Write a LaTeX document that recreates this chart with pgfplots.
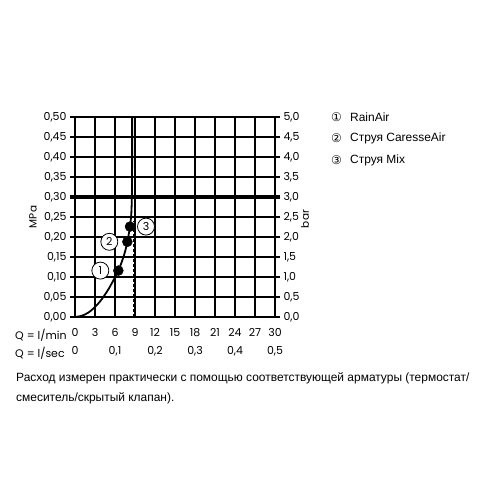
\documentclass[border=0pt]{standalone}
\usepackage{pgfplots}
\pgfplotsset{compat=1.18}
\usepackage{fontspec}
\setmainfont{Liberation Sans}
\newfontfamily\geo{Poppins}
\newfontfamily\sym{DejaVu Sans}

\begin{document}
\begin{tikzpicture}[x=1bp,y=1bp]
\path (0,0) rectangle (500,500);

% left axis: MPa, grid, curve
\begin{axis}[
    at={(75bp,183bp)}, anchor=south west,
    scale only axis, width=200bp, height=200bp,
    xmin=0, xmax=30, ymin=0, ymax=0.5,
    axis x line*=bottom, axis y line*=left,
    axis line style={line width=1.2bp},
    xtick={0,3,...,30},
    xticklabels={0,3,6,9,12,15,18,21,24,27,30},
    ytick={0,0.05,...,0.5},
    grid=major,
    grid style={black, line width=1.1bp},
    tick align=outside,
    major tick length=5bp,
    x tick style={draw=none},
    y tick style={black, line width=1.1bp},
    /pgf/number format/assume math mode=true,
    yticklabel style={/pgf/number format/.cd, use comma, fixed, fixed zerofill, precision=2},
    tick label style={font=\geo\fontsize{11}{12}\selectfont},
    xticklabel style={anchor=base, yshift=-15bp},
    extra x ticks={0,6,12,18,24,30},
    extra x tick labels={0,{0,1},{0,2},{0,3},{0,4},{0,5}},
    extra x tick style={grid=none, xticklabel style={yshift=-18bp}},
    clip=false,
]
\addplot[black, line width=3.5bp] coordinates {(-0.75,0.3) (30.75,0.3)};
\addplot[black, line width=0.8bp, dashed, dash pattern=on 3bp off 2bp] coordinates {(8.75,0) (8.75,0.24)};
\addplot[black, line width=1.8bp, smooth, tension=0.5] coordinates {
    (0,0) (1,0.003) (2,0.011) (3,0.025) (4,0.044) (5,0.069) (6,0.099)
    (6.5,0.116) (7,0.137) (7.5,0.163) (7.85,0.188) (8.25,0.226)
    (8.45,0.26) (8.53,0.30) (8.56,0.35) (8.57,0.42) (8.57,0.5)
};
\addplot[black, only marks, mark=*, mark size=5bp] coordinates {
    (6.5,0.116) (7.85,0.188) (8.25,0.226)
};
\addplot[only marks, mark=none, nodes near coords={1},
    nodes near coords style={draw=black, line width=0.8bp, circle, fill=white, minimum size=17bp, inner sep=0pt, anchor=center, xshift=-18bp, font=\geo\fontsize{11}{12}\selectfont}]
    coordinates {(6.5,0.116)};
\addplot[only marks, mark=none, nodes near coords={2},
    nodes near coords style={draw=black, line width=0.8bp, circle, fill=white, minimum size=17bp, inner sep=0pt, anchor=center, xshift=-18bp, font=\geo\fontsize{11}{12}\selectfont}]
    coordinates {(7.85,0.188)};
\addplot[only marks, mark=none, nodes near coords={3},
    nodes near coords style={draw=black, line width=0.8bp, circle, fill=white, minimum size=17bp, inner sep=0pt, anchor=center, xshift=16bp, font=\geo\fontsize{11}{12}\selectfont}]
    coordinates {(8.25,0.226)};
\end{axis}

% right axis: bar
\begin{axis}[
    at={(75bp,183bp)}, anchor=south west,
    scale only axis, width=200bp, height=200bp,
    xmin=0, xmax=30, ymin=0, ymax=5,
    axis x line=none, axis y line*=right,
    axis line style={line width=1.2bp},
    ytick={0,0.5,...,5},
    tick align=outside,
    major tick length=5bp,
    y tick style={black, line width=1.1bp},
    /pgf/number format/assume math mode=true,
    yticklabel style={/pgf/number format/.cd, use comma, fixed, fixed zerofill, precision=1},
    tick label style={font=\geo\fontsize{11}{12}\selectfont},
]
\end{axis}

\node[rotate=90, font=\geo\fontsize{10.5}{12}\selectfont] at (33,283) {MPa};
\node[rotate=90, font=\geo\fontsize{10.5}{12}\selectfont] at (305,281) {bar};

\node[anchor=base west, font=\geo\fontsize{11}{12}\selectfont, inner sep=0pt] at (15,160) {Q = l/min};
\node[anchor=base west, font=\geo\fontsize{11}{12}\selectfont, inner sep=0pt] at (15,142) {Q = l/sec};

\node[anchor=west, inner sep=0pt, font=\sym\fontsize{12}{13}\selectfont] at (331,383) {①};
\node[anchor=west, inner sep=0pt, font=\sym\fontsize{12}{13}\selectfont] at (331,362) {②};
\node[anchor=west, inner sep=0pt, font=\sym\fontsize{12}{13}\selectfont] at (331,340) {③};
\node[anchor=west, inner sep=0pt, font=\fontsize{12}{14}\selectfont] at (350,383) {RainAir};
\node[anchor=west, inner sep=0pt, font=\fontsize{12}{14}\selectfont] at (350,362) {Струя CaresseAir};
\node[anchor=west, inner sep=0pt, font=\fontsize{12}{14}\selectfont] at (350,340) {Струя Mix};

\node[anchor=base west, inner sep=0pt, font=\fontsize{12}{14}\selectfont] at (16,118) {Расход измерен практически с помощью соответствующей арматуры (термостат/};
\node[anchor=base west, inner sep=0pt, font=\fontsize{12}{14}\selectfont] at (16,98) {смеситель/скрытый клапан).};
\end{tikzpicture}
\end{document}
